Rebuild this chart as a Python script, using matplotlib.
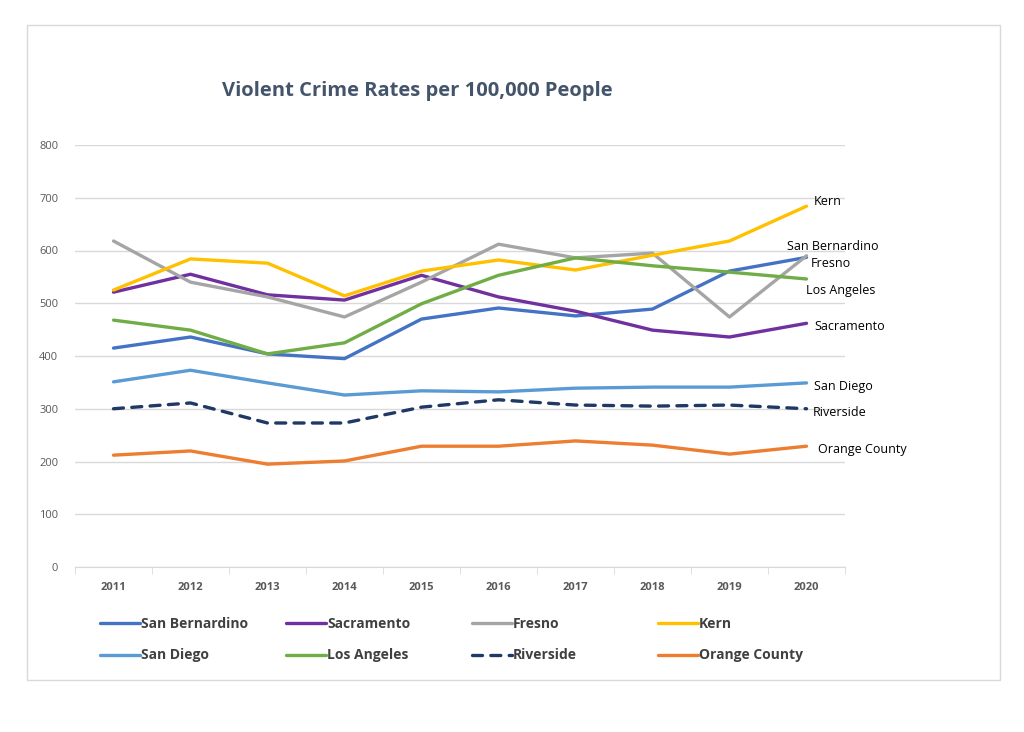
import numpy as np
import matplotlib.pyplot as plt
from matplotlib.patches import Rectangle

years = ["2011", "2012", "2013", "2014", "2015", "2016", "2017", "2018", "2019", "2020"]

san_bernardino = [415, 436, 404, 395, 470, 491, 476, 489, 561, 587]
sacramento = [521, 555, 516, 506, 553, 512, 485, 449, 436, 462]
fresno = [618, 540, 512, 474, 540, 612, 586, 595, 474, 590]
kern = [525, 584, 576, 514, 561, 582, 563, 591, 618, 684]
san_diego = [351, 373, 349, 326, 334, 332, 339, 341, 341, 349]
los_angeles = [468, 449, 404, 425, 499, 553, 586, 571, 559, 546]
riverside = [300, 311, 273, 273, 303, 317, 307, 305, 307, 300]
orange_county = [212, 220, 195, 201, 229, 229, 239, 231, 214, 229]

names = ["San Bernardino", "Sacramento", "Fresno", "Kern",
         "San Diego", "Los Angeles", "Riverside", "Orange County"]
series = [san_bernardino, sacramento, fresno, kern,
          san_diego, los_angeles, riverside, orange_county]
colors = ["#4472C4", "#7030A0", "#A5A5A5", "#FFC000",
          "#5B9BD5", "#70AD47", "#203864", "#ED7D31"]
# where the end labels sit: (offset past 2020, y value)
end_labels = {"Kern": (0.1, 692), "San Bernardino": (-0.25, 608),
              "Fresno": (0.05, 575), "Los Angeles": (0.0, 524),
              "Sacramento": (0.1, 455), "San Diego": (0.1, 342),
              "Riverside": (0.08, 293), "Orange County": (0.15, 222)}

plt.rcParams['font.family'] = ['Open Sans', 'DejaVu Sans']

fig = plt.figure(figsize=(10.24, 7.32), dpi=100)
fig.patches.append(Rectangle((27 / 1024, 1 - 680 / 732), 973 / 1024, 655 / 732,
                             transform=fig.transFigure, fill=False,
                             edgecolor="#D9D9D9", linewidth=1))
ax = fig.add_axes([75 / 1024, 1 - 567 / 732, 770 / 1024, 422 / 732])

x = np.arange(len(years))
lines = []
for name, vals, c in zip(names, series, colors):
    if name == "Riverside":
        ln, = ax.plot(x, vals, color=c, linewidth=2.4, linestyle=(0, (3, 2.5)),
                      dash_capstyle="round")
    else:
        ln, = ax.plot(x, vals, color=c, linewidth=2.4, solid_capstyle="round")
    lines.append(ln)

for name in names:
    dx, yy = end_labels[name]
    ax.text(9 + dx, yy, name, fontsize=9, color="black", va="center", ha="left")

ax.set_xlim(-0.5, 9.5)
ax.set_ylim(0, 800)
ax.set_yticks(range(0, 801, 100))
ax.yaxis.grid(True, color="#D9D9D9", linewidth=1)
ax.set_axisbelow(True)
for s in ["top", "right", "left"]:
    ax.spines[s].set_visible(False)
ax.spines["bottom"].set_color("#D9D9D9")
ax.tick_params(axis="y", length=0, labelsize=8, labelcolor="#595959", pad=12)
ax.set_xticks(x)
ax.set_xticklabels(years, fontsize=8, fontweight="bold", color="#595959")
ax.set_xticks(np.arange(-0.5, 10, 1), minor=True)
ax.tick_params(axis="x", which="major", length=0, pad=11)
ax.tick_params(axis="x", which="minor", length=5, color="#D9D9D9")

fig.text(222 / 1024, 1 - 91 / 732, "Violent Crime Rates per 100,000 People",
         fontsize=14.5, fontweight="bold", color="#44546A", va="center", ha="left")

col_x = [100, 286, 472, 658]
for i in range(4):
    leg = fig.legend([lines[i], lines[i + 4]], [names[i], names[i + 4]],
                     loc="upper left",
                     bbox_to_anchor=(col_x[i] / 1024, 1 - 617 / 732),
                     frameon=False, handlelength=2.9, handletextpad=0.05,
                     labelspacing=1.25, borderaxespad=0, borderpad=0,
                     prop={"size": 10, "weight": "bold"})
    for t in leg.get_texts():
        t.set_color("#404040")

fig.savefig("out.png", dpi=100)
